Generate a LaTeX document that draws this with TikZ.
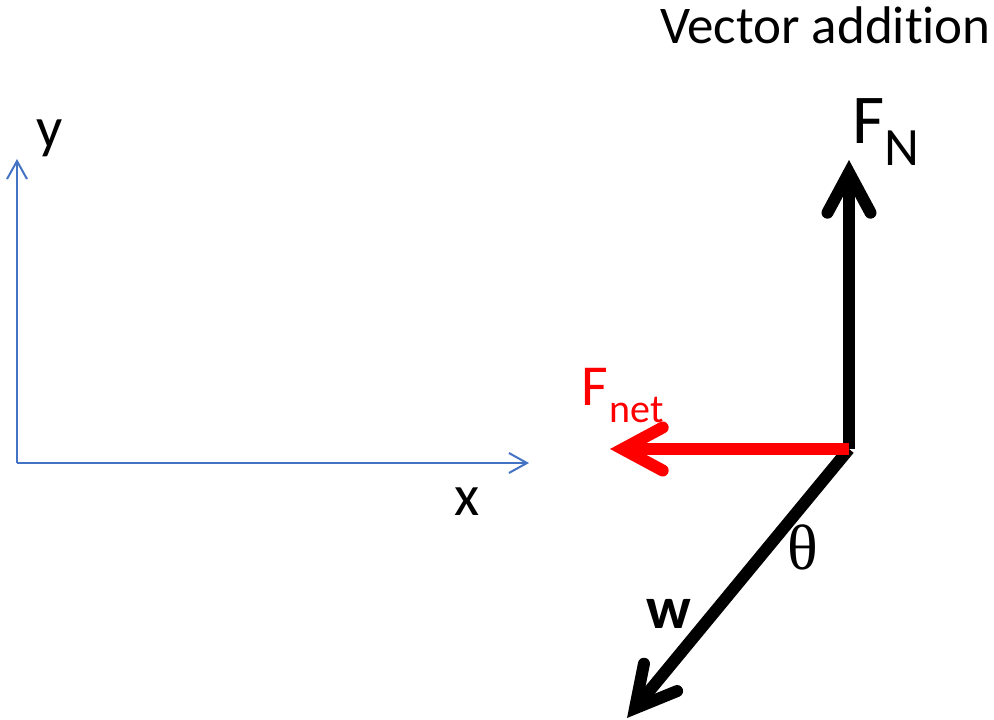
\documentclass[tikz,border=0pt]{standalone}
\usepackage{fontspec}
\setmainfont[Ligatures={NoCommon}]{Carlito}
\newfontfamily\thetafont{Liberation Serif}
\usetikzlibrary{arrows.meta}
\definecolor{axisblue}{RGB}{68,114,196}
\definecolor{netred}{RGB}{255,0,0}
\begin{document}
\begin{tikzpicture}[x=1pt,y=-1pt,
  axis/.style={draw=axisblue, line width=2pt, -{Straight Barb[length=18pt,width=20pt]}},
  force/.style={line width=12pt, line cap=butt, -{Straight Barb[length=40pt,width=43pt,line cap=round,line join=miter]}},
  lbl/.style={inner sep=0pt, outer sep=0pt, anchor=base west}]
\useasboundingbox (0,0) rectangle (994,720);
\coordinate (A) at (17,463);
\coordinate (Ay) at (17,159);
\coordinate (Ax) at (529,463);
\coordinate (O) at (849,449);
\coordinate (FN) at (849,160);
\coordinate (W) at (627,718);
\coordinate (Fnet) at (610,449);
\draw[axis] (A) -- (Ay);
\draw[axis] (A) -- (Ax);
\draw[force] (O) -- (FN);
\draw[force] (O) -- (W);
\draw[force, draw=netred] (O) -- (Fnet);
\node[lbl, font=\fontsize{53}{60}\selectfont] (title) at (660,43) {Vector addition};
\node[lbl, font=\fontsize{58}{60}\selectfont] (ylab) at (36,147) {y};
\node[lbl, font=\fontsize{58}{60}\selectfont] (xlab) at (454,515) {x};
\node[lbl, font=\fontsize{70}{72}\selectfont] (FNlab) at (852,143) {F\raisebox{-22pt}{\fontsize{54}{56}\selectfont N}};
\node[lbl, text=netred, font=\fontsize{58}{60}\selectfont] (Fnetlab) at (581,405) {F\kern2pt\raisebox{-17pt}{\fontsize{40}{42}\selectfont net}};
\node[lbl, font=\fontsize{64}{66}\thetafont] (theta) at (787,569) {θ};
\node[lbl, font=\fontsize{60}{62}\selectfont\bfseries] (wlab) at (646,628) {w};
\end{tikzpicture}
\end{document}
